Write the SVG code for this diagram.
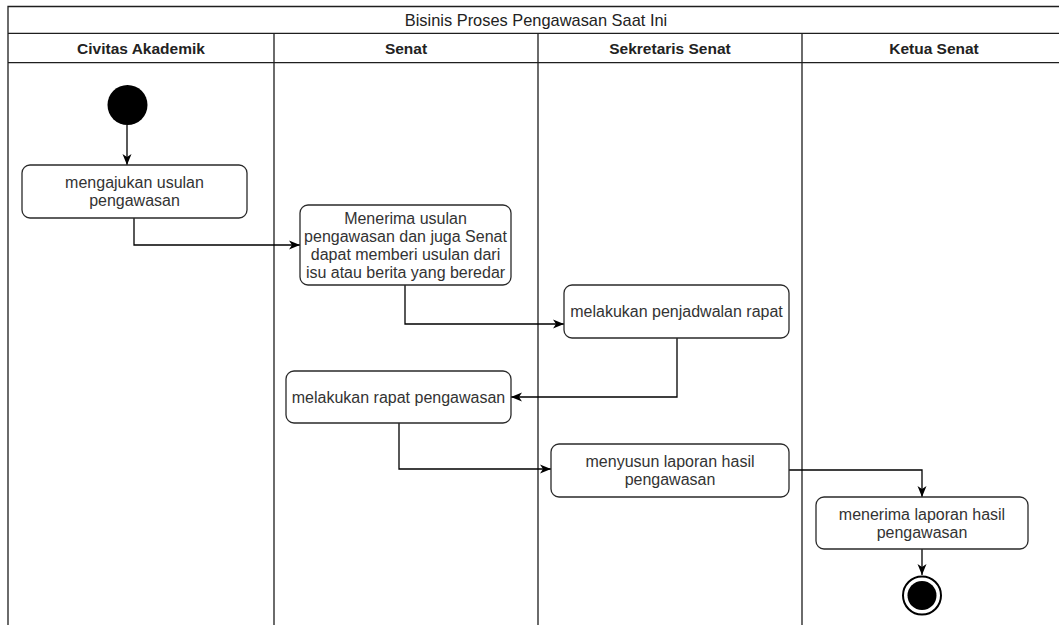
<svg xmlns="http://www.w3.org/2000/svg" width="1059" height="625" viewBox="0 0 1059 625">
  <style>
    .frame { fill: none; stroke: #1e1e1e; stroke-width: 1.3; }
    .title { font-family: "Liberation Sans", Arial, sans-serif; font-size: 16.4px; fill: #222222; text-anchor: middle; }
    .lane { font-family: "Liberation Sans", Arial, sans-serif; font-size: 15.5px; font-weight: bold; fill: #222222; text-anchor: middle; }
    .act rect { fill: #ffffff; stroke: #2a2a2a; stroke-width: 1.3; }
    .act text { font-family: "Liberation Sans", Arial, sans-serif; font-size: 16px; fill: #333333; text-anchor: middle; }
    .edge { fill: none; stroke: #000000; stroke-width: 1.3; marker-end: url(#arrow); }
  </style>
  <defs>
    <marker id="arrow" markerUnits="userSpaceOnUse" markerWidth="12" markerHeight="10" refX="11" refY="5" orient="auto">
      <path d="M0,0.5 L11,5 L0,9.5 L3,5 Z" fill="#000000"/>
    </marker>
  </defs>

  <rect x="0" y="0" width="1059" height="625" fill="#ffffff"/>

  <!-- pool and swimlanes -->
  <g id="pool">
    <path class="frame" d="M8,632 L8,6.5 L1070,6.5 M8,33.3 L1070,33.3 M8,62.7 L1070,62.7 M274,33.3 L274,632 M538,33.3 L538,632 M802,33.3 L802,632"/>
    <text class="title" x="536" y="25.5">Bisinis Proses Pengawasan Saat Ini</text>
    <text class="lane" x="141" y="53.5">Civitas Akademik</text>
    <text class="lane" x="406" y="53.5">Senat</text>
    <text class="lane" x="670" y="53.5">Sekretaris Senat</text>
    <text class="lane" x="934" y="53.5">Ketua Senat</text>
  </g>

  <!-- connectors -->
  <g id="connectors">
    <path class="edge" d="M127,125 L127,165"/>
    <path class="edge" d="M134,218 L134,245 L300,245"/>
    <path class="edge" d="M405,285 L405,324 L564,324"/>
    <path class="edge" d="M677,338 L677,397 L511,397"/>
    <path class="edge" d="M399,423 L399,469 L551,469"/>
    <path class="edge" d="M789,470 L922,470 L922,497"/>
    <path class="edge" d="M922,549 L922,575"/>
  </g>

  <!-- start -->
  <g id="start">
    <circle cx="127.5" cy="105" r="20" fill="#000000"/>
  </g>

  <g id="n1" class="act">
    <rect x="22" y="165" width="225" height="53" rx="8"/>
    <text x="134.5" y="188">mengajukan usulan</text>
    <text x="134.5" y="206">pengawasan</text>
  </g>

  <g id="n2" class="act">
    <rect x="300" y="205" width="211" height="80" rx="8"/>
    <text x="405.5" y="223.5">Menerima usulan</text>
    <text x="405.5" y="241.5">pengawasan dan juga Senat</text>
    <text x="405.5" y="259.5">dapat memberi usulan dari</text>
    <text x="405.5" y="277.5">isu atau berita yang beredar</text>
  </g>

  <g id="n3" class="act">
    <rect x="564" y="285" width="225" height="53" rx="8"/>
    <text x="676.5" y="317">melakukan penjadwalan rapat</text>
  </g>

  <g id="n4" class="act">
    <rect x="286" y="371" width="225" height="52" rx="8"/>
    <text x="398.5" y="402.5">melakukan rapat pengawasan</text>
  </g>

  <g id="n5" class="act">
    <rect x="551" y="444" width="238" height="53" rx="8"/>
    <text x="670" y="466.5">menyusun laporan hasil</text>
    <text x="670" y="484.5">pengawasan</text>
  </g>

  <g id="n6" class="act">
    <rect x="816" y="497" width="212" height="52" rx="8"/>
    <text x="922" y="519.5">menerima laporan hasil</text>
    <text x="922" y="537.5">pengawasan</text>
  </g>

  <!-- end -->
  <g id="end">
    <circle cx="922" cy="595.5" r="19" fill="#ffffff" stroke="#000000" stroke-width="2"/>
    <circle cx="922" cy="595.5" r="14.5" fill="#000000"/>
  </g>
</svg>
